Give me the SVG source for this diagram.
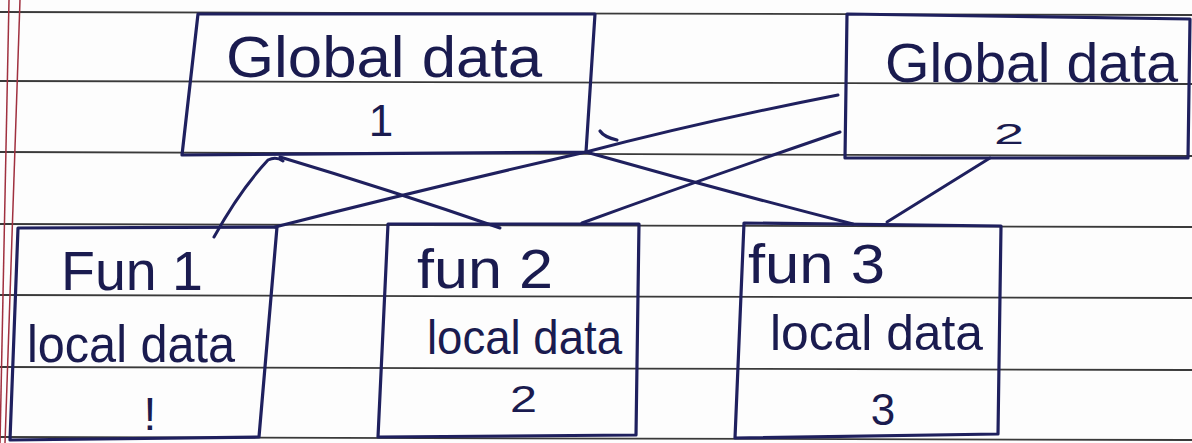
<svg xmlns="http://www.w3.org/2000/svg" width="1192" height="443" viewBox="0 0 1192 443">
<style>
.rule{stroke:#3a3a3a;stroke-width:1.8;fill:none}
.margin{stroke:#a0303f;stroke-width:1.5;fill:none}
.box{stroke:#1f205e;stroke-width:3.2;fill:none;stroke-linejoin:round;stroke-linecap:round}
.wire{stroke:#1f205e;stroke-width:3;fill:none;stroke-linecap:round}
.t{font-family:"Liberation Sans",Arial,sans-serif;fill:#1a1b4f}
</style>
<rect width="1192" height="443" fill="#fdfdfd"/>
<g id="paper">
<path class="rule" d="M0,12 L1192,15"/>
<path class="rule" d="M0,81 L1192,84"/>
<path class="rule" d="M0,152 L1192,156"/>
<path class="rule" d="M0,224 L1192,227"/>
<path class="rule" d="M0,295 L1192,298"/>
<path class="rule" d="M0,367 L1192,370"/>
<path class="rule" d="M0,437 L1192,440"/>
<path class="margin" d="M9,0 L0,443"/>
<path class="margin" d="M20,0 L5,443"/>
</g>
<g id="global1">
<path class="box" d="M198,14 L595,14 L586,152 L182,155 Z"/>
<text class="t" x="226" y="77" font-size="58" textLength="316" lengthAdjust="spacingAndGlyphs">Global data</text>
<text class="t" x="381" y="136" font-size="44" text-anchor="middle">1</text>
<path class="box" d="M600,131 Q604,137 617,140"/>
</g>
<g id="global2">
<path class="box" d="M847,14 L1190,19 L1188,158 L845,158 Z"/>
<text class="t" x="885" y="82" font-size="56" textLength="293" lengthAdjust="spacingAndGlyphs">Global data</text>
<text class="t" x="994" y="144" font-size="30" textLength="30" lengthAdjust="spacingAndGlyphs">2</text>
</g>
<g id="fun1">
<path class="box" d="M18,228 L277,227 L259,437 L10,440 Z"/>
<text class="t" x="61" y="290" font-size="55" textLength="142" lengthAdjust="spacingAndGlyphs">Fun 1</text>
<text class="t" x="27" y="362" font-size="52" textLength="208" lengthAdjust="spacingAndGlyphs">local data</text>
<text class="t" x="150" y="430" font-size="46" text-anchor="middle">!</text>
</g>
<g id="fun2">
<path class="box" d="M388,224 L639,224 L636,435 L378,437 Z"/>
<text class="t" x="417" y="288" font-size="55" textLength="136" lengthAdjust="spacingAndGlyphs">fun 2</text>
<text class="t" x="427" y="354" font-size="48" textLength="195" lengthAdjust="spacingAndGlyphs">local data</text>
<text class="t" x="510" y="412" font-size="36" textLength="27" lengthAdjust="spacingAndGlyphs">2</text>
</g>
<g id="fun3">
<path class="box" d="M744,223 L1001,226 L998,434 L735,438 Z"/>
<text class="t" x="748" y="283" font-size="55" textLength="137" lengthAdjust="spacingAndGlyphs">fun 3</text>
<text class="t" x="770" y="350" font-size="50" textLength="213" lengthAdjust="spacingAndGlyphs">local data</text>
<text class="t" x="883" y="425" font-size="44" text-anchor="middle">3</text>
</g>
<g id="connectors">
<path class="wire" d="M283,161 Q276,156 268,160 Q240,190 214,237"/>
<path class="wire" d="M275,227 Q420,190 586,152 Q700,122 838,95"/>
<path class="wire" d="M280,157 Q390,190 500,228"/>
<path class="wire" d="M586,152 Q720,190 853,224"/>
<path class="wire" d="M840,132 Q700,180 582,223"/>
<path class="wire" d="M990,158 L887,222"/>
</g>
</svg>
